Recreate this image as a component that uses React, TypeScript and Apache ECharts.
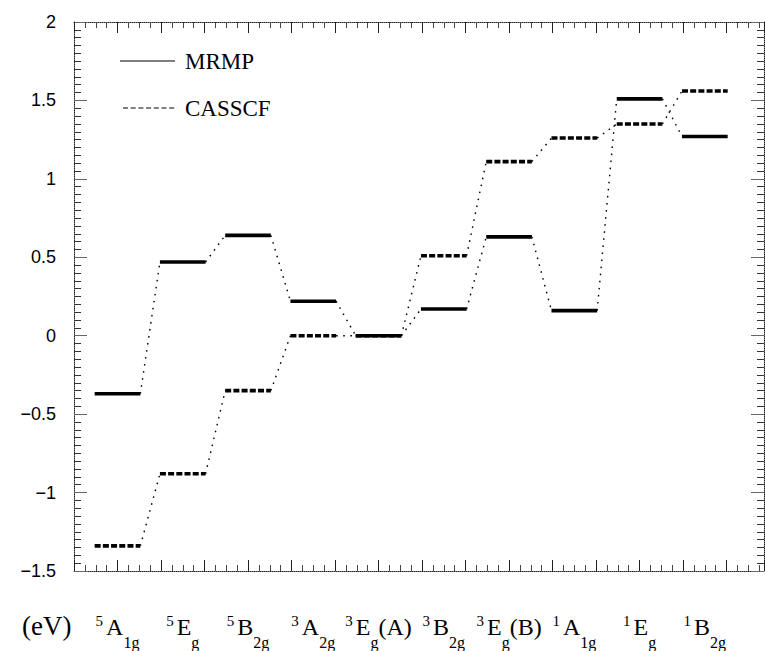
import React, { useEffect, useRef } from "react";
import * as echarts from "echarts";

// ---- data ----
const stateSpin = ["5", "5", "5", "3", "3", "3", "3", "1", "1", "1"];
const stateSymbol = ["A", "E", "B", "A", "E", "B", "E", "A", "E", "B"];
const stateSub = ["1g", "g", "2g", "2g", "g", "2g", "g", "1g", "g", "2g"];
const stateSuffix = ["", "", "", "", "(A)", "", "(B)", "", "", ""];
const mrmp = [-0.37, 0.47, 0.64, 0.22, 0.0, 0.17, 0.63, 0.16, 1.51, 1.27];
const casscf = [-1.34, -0.88, -0.35, 0.0, 0.0, 0.51, 1.11, 1.26, 1.35, 1.56];
const yTicks = [-1.5, -1, -0.5, 0, 0.5, 1, 1.5, 2];

// state i sits at x = 3*(i+1) on the internal x scale
const statePos = stateSpin.map((_, i) => 3 * (i + 1));
const HALF = 1.05; // half width of a level bar in x units

const SERIF = '"Liberation Serif", "Times New Roman", serif';
const SANS = '"Liberation Sans", Arial, sans-serif';

function levelSeries(values: number[], dash: number[] | null, z: number) {
  return {
    type: "custom",
    coordinateSystem: "cartesian2d",
    xAxisIndex: 0,
    yAxisIndex: 0,
    clip: false,
    silent: true,
    z,
    encode: { x: 0, y: 1 },
    data: values.map((v, i) => [statePos[i], v]),
    renderItem: (_p: any, api: any) => {
      const x = api.value(0);
      const y = api.value(1);
      const a = api.coord([x - HALF, y]);
      const b = api.coord([x + HALF, y]);
      return {
        type: "line",
        shape: { x1: a[0], y1: a[1], x2: b[0], y2: b[1] },
        style: { stroke: "#000", lineWidth: 3.6, lineDash: dash || undefined, fill: null },
      };
    },
  };
}

function connectorSeries(values: number[], z: number) {
  const data = [] as number[][];
  for (let i = 0; i < values.length - 1; i++) {
    data.push([statePos[i] + HALF, values[i], statePos[i + 1] - HALF, values[i + 1]]);
  }
  return {
    type: "custom",
    coordinateSystem: "cartesian2d",
    xAxisIndex: 0,
    yAxisIndex: 0,
    clip: false,
    silent: true,
    z,
    encode: { x: [0, 2], y: [1, 3] },
    data,
    renderItem: (_p: any, api: any) => {
      const a = api.coord([api.value(0), api.value(1)]);
      const b = api.coord([api.value(2), api.value(3)]);
      return {
        type: "line",
        shape: { x1: a[0], y1: a[1], x2: b[0], y2: b[1] },
        style: { stroke: "#000", lineWidth: 1.4, lineDash: [1.6, 5.5], fill: null },
      };
    },
  };
}

export default function App() {
  const ref = useRef<HTMLDivElement>(null);
  useEffect(() => {
    if (!ref.current) return;
    const chart = echarts.init(ref.current, undefined, { renderer: "svg" });

    const frameLine = { show: true, onZero: false, lineStyle: { color: "#222", width: 1, type: [1, 1] } };
    const xBase = {
      type: "value",
      min: 1,
      max: 32.72,
      interval: 2,
      axisLine: frameLine,
      axisTick: { show: true, inside: true, length: 11, lineStyle: { color: "#222", width: 1 } },
      minorTick: { show: true, splitNumber: 4, length: 6, lineStyle: { color: "#444", width: 1 } },
      axisLabel: { show: false },
      splitLine: { show: false },
    };
    const yBase = {
      type: "value",
      min: -1.5,
      max: 2,
      interval: 0.5,
      axisLine: frameLine,
      axisTick: { show: true, inside: true, length: 13, lineStyle: { color: "#666", width: 1 } },
      minorTick: { show: true, splitNumber: 10, length: 7, lineStyle: { color: "#333", width: 1 } },
      splitLine: { show: false },
    };

    const labelStrings = stateSpin.map(
      (s, i) =>
        `{sup|${s}}{main|${stateSymbol[i]}}{sub|${stateSub[i]}}` +
        (stateSuffix[i] ? `{main|${stateSuffix[i]}}` : "")
    );

    chart.setOption({
      animation: false,
      backgroundColor: "#fff",
      grid: { left: 74, right: 1, top: 22, bottom: 80, containLabel: false },
      xAxis: [
        { ...xBase, position: "bottom" },
        { ...xBase, position: "top" },
      ],
      yAxis: [
        {
          ...yBase,
          position: "left",
          axisLabel: {
            show: true,
            color: "#000",
            fontSize: 18,
            fontFamily: SANS,
            margin: 18,
            customValues: yTicks,
            formatter: (v: number) => (v < 0 ? "\u2212" + String(-v) : String(v)),
          },
        },
        { ...yBase, position: "right", axisLabel: { show: false } },
      ],
      series: [
        connectorSeries(casscf, 2),
        connectorSeries(mrmp, 2),
        levelSeries(casscf, [6, 2.2], 3),
        levelSeries(mrmp, null, 4),
        {
          type: "scatter",
          xAxisIndex: 0,
          yAxisIndex: 0,
          symbolSize: 0,
          clip: false,
          silent: true,
          itemStyle: { color: "#000" },
          data: statePos.map((x) => [x, -1.5]),
          label: {
            show: true,
            position: "bottom",
            distance: 33,
            color: "#000",
            opacity: 1,
            textBorderWidth: 0,
            formatter: (p: any) => labelStrings[p.dataIndex],
            rich: {
              main: { fontFamily: SERIF, fontSize: 24, lineHeight: 46, verticalAlign: "middle", color: "#000" },
              sup: {
                fontFamily: SERIF,
                fontSize: 15,
                lineHeight: 20,
                padding: [9, 3, 0, 0],
                verticalAlign: "top",
                color: "#000",
              },
              sub: { fontFamily: SERIF, fontSize: 16, lineHeight: 8, verticalAlign: "bottom", color: "#000" },
            },
          },
        },
      ],
      graphic: [
        { type: "line", shape: { x1: 120, y1: 61, x2: 175, y2: 61 }, style: { stroke: "#000", lineWidth: 1.2 } },
        {
          type: "text",
          x: 185,
          y: 61,
          style: { text: "MRMP", font: `23px ${SERIF}`, fill: "#000", verticalAlign: "middle", textVerticalAlign: "middle" },
        },
        {
          type: "line",
          shape: { x1: 123, y1: 108, x2: 177, y2: 108 },
          style: { stroke: "#000", lineWidth: 1.2, lineDash: [5, 2.7] },
        },
        {
          type: "text",
          x: 185,
          y: 108,
          style: { text: "CASSCF", font: `23px ${SERIF}`, fill: "#000", verticalAlign: "middle", textVerticalAlign: "middle" },
        },
        {
          type: "text",
          x: 22,
          y: 626,
          style: { text: "(eV)", font: `27px ${SERIF}`, fill: "#000", verticalAlign: "middle", textVerticalAlign: "middle" },
        },
      ],
    });
    return () => chart.dispose();
  }, []);
  return (
    <div
      ref={ref}
      style={{ position: "fixed", left: 0, top: 0, width: 765, height: 651, background: "#fff" }}
    />
  );
}
